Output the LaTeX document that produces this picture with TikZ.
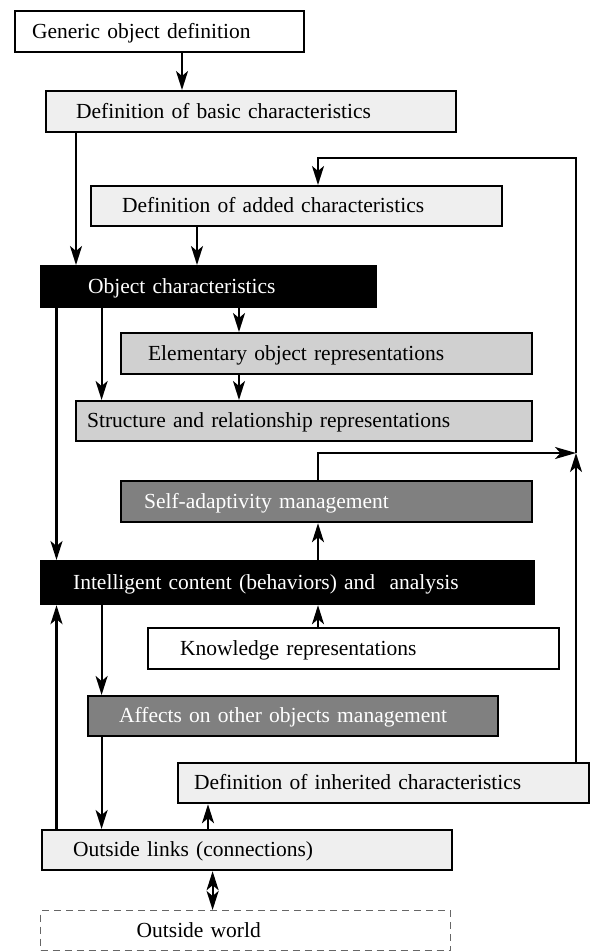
\documentclass[tikz,border=0pt]{standalone}
\usepackage{fontspec}
\setmainfont{Liberation Serif}
\usetikzlibrary{arrows.meta,calc}

\definecolor{boxlight}{HTML}{EFEFEF}
\definecolor{boxmid}{HTML}{D0D0D0}
\definecolor{boxdark}{HTML}{808080}

\tikzset{
  box/.style={draw, line width=2.2pt, anchor=north west, inner xsep=0pt, inner ysep=0pt,
    align=left, text height=15pt, text depth=2pt,
    font=\fontsize{21.5}{23}\selectfont},
  lightbox/.style={box, fill=boxlight},
  midbox/.style={box, fill=boxmid},
  darkbox/.style={box, fill=boxdark, text=white},
  blackbox/.style={box, fill=black, text=white},
  worldbox/.style={box, draw=black!60, line width=1.3pt, dash pattern=on 7pt off 5pt},
  link/.style={line width=2.2pt},
  arr/.style={link, -{Stealth[length=19pt,width=12pt,inset=5pt]}},
  harr/.style={link, -{Stealth[length=21pt,width=12pt,inset=5.5pt]}},
  twoarr/.style={link, {Stealth[length=19pt,width=12pt,inset=5pt]}-{Stealth[length=19pt,width=12pt,inset=5pt]}}
}

\begin{document}
\begin{tikzpicture}[x=1pt,y=-1pt]
\useasboundingbox (0,0) rectangle (590,951);

% boxes
\node[box, minimum height=41pt, text width=289pt] (gen) at (14,10)
  {\hspace*{17pt}Generic object definition};
\node[lightbox, minimum height=41pt, text width=410pt] (basic) at (45,90)
  {\hspace*{30pt}Definition of basic characteristics};
\node[lightbox, minimum height=40pt, text width=411pt] (added) at (90,185)
  {\hspace*{31pt}Definition of added characteristics};
\node[blackbox, minimum height=41pt, text width=335pt] (objc) at (40,265)
  {\hspace*{47pt}Object characteristics};
\node[midbox, minimum height=41pt, text width=411pt] (elem) at (120,332)
  {\hspace*{27pt}Elementary object representations};
\node[midbox, minimum height=40pt, text width=456pt] (struct) at (75,400)
  {\hspace*{11pt}Structure and relationship representations};
\node[darkbox, minimum height=41pt, text width=411pt] (self) at (120,480)
  {\hspace*{23pt}Self-adaptivity management};
\node[blackbox, minimum height=43pt, text width=493pt] (intel) at (40,560)
  {\hspace*{32pt}Intelligent content (behaviors) and~ analysis};
\node[box, fill=white, minimum height=41pt, text width=411pt] (know) at (147,627)
  {\hspace*{32pt}Knowledge representations};
\node[darkbox, minimum height=40pt, text width=410pt] (affects) at (87,695)
  {\hspace*{31pt}Affects on other objects management};
\node[lightbox, minimum height=40pt, text width=411pt] (inher) at (177,762)
  {\hspace*{16pt}Definition of inherited characteristics};
\node[lightbox, minimum height=40pt, text width=410pt] (outl) at (41,829)
  {\hspace*{31pt}Outside links (connections)};
\node[worldbox, minimum height=40pt, text width=410pt] (outw) at (40,910)
  {\hspace*{96pt}Outside world};

% connector columns and corners
\coordinate (ca) at (56.5,0);
\coordinate (cb) at (76,0);
\coordinate (cc) at (101.6,0);
\coordinate (cd) at (182,0);
\coordinate (ce) at (197,0);
\coordinate (cf) at (208,0);
\coordinate (cg) at (212.6,0);
\coordinate (ch) at (239,0);
\coordinate (ck) at (318,0);
\coordinate (meet) at (576,453);
\coordinate (top) at (576,158);

% connectors
\draw[arr] (gen.south -| cd) -- (basic.north -| cd);
\draw[arr] (basic.south -| cb) -- (objc.north -| cb);
\draw[arr] (added.south -| ce) -- (objc.north -| ce);
\draw[arr] (objc.south -| ca) -- (intel.north -| ca);
\draw[arr] (objc.south -| cc) -- (struct.north -| cc);
\draw[arr] (objc.south -| ch) -- (elem.north -| ch);
\draw[arr] (elem.south -| ch) -- (struct.north -| ch);
\draw[arr] (intel.north -| ck) -- (self.south -| ck);
\draw[arr] (know.north -| ck) -- (intel.south -| ck);
\draw[arr] (intel.south -| cc) -- (affects.north -| cc);
\draw[arr] (affects.south -| cc) -- (outl.north -| cc);
\draw[arr] (outl.north -| ca) -- (intel.south -| ca);
\draw[arr] (outl.north -| cf) -- (inher.south -| cf);
\draw[twoarr] (outl.south -| cg) -- (outw.north -| cg);

% feedback loops on the right
\draw[harr] (self.north -| ck) |- (meet);
\draw[arr] (inher.north -| meet) -- (meet);
\draw[arr] (meet) -- (top) -| (added.north -| ck);
\end{tikzpicture}
\end{document}
